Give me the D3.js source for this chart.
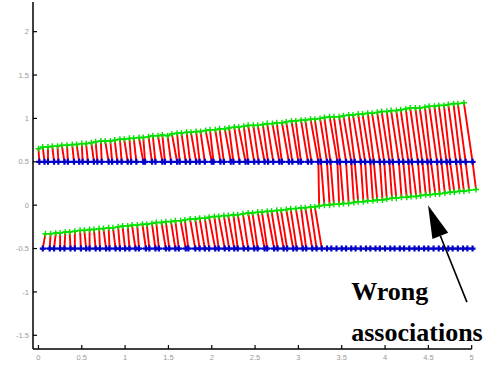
<!DOCTYPE html>
<html><head><meta charset="utf-8">
<script src="https://cdn.jsdelivr.net/npm/d3@7"></script>
<style>body{margin:0;background:#fff}svg{display:block}</style>
</head><body>
<svg id="c" width="500" height="369"></svg>
<script>
const xTicks=[0,0.5,1,1.5,2,2.5,3,3.5,4,4.5,5];
const yTicks=[-1.5,-1,-0.5,0,0.5,1,1.5,2];

// upper green track
const ugX=[0.00,0.05,0.11,0.16,0.22,0.27,0.33,0.39,0.44,0.50,
0.55,0.61,0.66,0.72,0.77,0.83,0.88,0.94,0.99,1.05,
1.10,1.16,1.21,1.27,1.32,1.38,1.43,1.49,1.54,1.60,
1.65,1.71,1.76,1.82,1.87,1.93,1.98,2.04,2.09,2.15,
2.20,2.26,2.31,2.37,2.42,2.48,2.53,2.59,2.64,2.70,
2.75,2.81,2.86,2.92,2.97,3.03,3.08,3.14,3.19,3.25,
3.30,3.36,3.41,3.47,3.52,3.58,3.63,3.69,3.74,3.80,
3.85,3.91,3.96,4.02,4.07,4.13,4.18,4.24,4.29,4.35,
4.40,4.46,4.51,4.57,4.62,4.68,4.73,4.79,4.84,4.91];
const ugY=[0.65,0.67,0.67,0.68,0.68,0.69,0.69,0.70,0.70,0.71,
0.71,0.72,0.73,0.74,0.74,0.74,0.75,0.76,0.76,0.77,
0.77,0.78,0.78,0.79,0.80,0.80,0.81,0.80,0.82,0.83,
0.83,0.84,0.84,0.85,0.85,0.86,0.87,0.87,0.88,0.88,
0.89,0.90,0.90,0.91,0.92,0.92,0.92,0.93,0.94,0.94,
0.95,0.95,0.96,0.97,0.97,0.98,0.98,0.99,0.99,1.00,
1.01,1.02,1.02,1.02,1.03,1.04,1.04,1.05,1.05,1.06,
1.06,1.07,1.08,1.08,1.09,1.09,1.10,1.11,1.12,1.12,
1.12,1.13,1.14,1.14,1.15,1.15,1.16,1.17,1.17,1.18];
// upper blue track (level 0.5)
const ubX=[0.01,0.07,0.11,0.18,0.23,0.30,0.34,0.41,0.47,0.51,
0.57,0.64,0.68,0.73,0.81,0.85,0.91,0.96,1.03,1.07,
1.13,1.21,1.23,1.31,1.35,1.43,1.46,1.53,1.60,1.63,
1.70,1.75,1.82,1.86,1.92,2.00,2.02,2.10,2.14,2.22,
2.25,2.32,2.39,2.42,2.49,2.54,2.61,2.65,2.71,2.78,
2.81,2.89,2.93,3.00,3.03,3.11,3.15,3.23,3.26,3.33,
3.37,3.45,3.48,3.55,3.61,3.65,3.72,3.77,3.83,3.87,
3.94,3.99,4.05,4.09,4.16,4.21,4.27,4.31,4.38,4.43,
4.49,4.53,4.60,4.65,4.71,4.75,4.82,4.87,4.93,5.01];
const upperLevel=0.5;

// lower green track
const lgX=[0.08,0.14,0.20,0.25,0.31,0.36,0.42,0.48,0.53,0.59,
0.64,0.70,0.75,0.81,0.86,0.92,0.97,1.03,1.08,1.14,
1.20,1.25,1.31,1.36,1.42,1.47,1.53,1.58,1.64,1.69,
1.75,1.81,1.86,1.92,1.97,2.03,2.08,2.14,2.19,2.25,
2.30,2.36,2.42,2.47,2.53,2.58,2.64,2.69,2.75,2.80,
2.86,2.91,2.97,3.03,3.08,3.14,3.19,3.24,3.30,3.36,
3.41,3.47,3.52,3.58,3.64,3.69,3.75,3.80,3.86,3.91,
3.97,4.02,4.08,4.13,4.19,4.25,4.30,4.36,4.41,4.47,
4.52,4.58,4.63,4.69,4.75,4.80,4.86,4.91,4.97,5.05];
const lgY=[-0.33,-0.33,-0.32,-0.32,-0.31,-0.31,-0.30,-0.29,-0.29,-0.28,
-0.28,-0.27,-0.27,-0.26,-0.26,-0.25,-0.24,-0.24,-0.23,-0.23,
-0.22,-0.22,-0.21,-0.20,-0.20,-0.19,-0.19,-0.18,-0.18,-0.17,
-0.16,-0.16,-0.15,-0.15,-0.14,-0.13,-0.13,-0.12,-0.12,-0.11,
-0.11,-0.10,-0.09,-0.09,-0.08,-0.08,-0.07,-0.07,-0.06,-0.06,
-0.05,-0.04,-0.04,-0.03,-0.03,-0.02,-0.02,-0.01,0.00,0.00,
0.01,0.01,0.02,0.02,0.03,0.04,0.04,0.05,0.05,0.06,
0.06,0.07,0.08,0.08,0.09,0.09,0.10,0.10,0.11,0.12,
0.12,0.13,0.13,0.14,0.15,0.15,0.16,0.16,0.17,0.18];
// lower blue track (level -0.5)
const lbX=[0.05,0.13,0.18,0.25,0.30,0.37,0.42,0.49,0.55,0.59,
0.66,0.71,0.78,0.82,0.89,0.94,1.00,1.05,1.12,1.16,
1.24,1.28,1.35,1.39,1.47,1.51,1.58,1.62,1.70,1.73,
1.81,1.86,1.92,1.97,2.04,2.08,2.15,2.20,2.26,2.30,
2.37,2.42,2.49,2.53,2.61,2.64,2.72,2.76,2.83,2.87,
2.94,2.98,3.05,3.09,3.16,3.21,3.27,3.33,3.38,3.44,
3.50,3.55,3.61,3.66,3.72,3.78,3.83,3.89,3.94,4.00,
4.06,4.11,4.17,4.22,4.28,4.34,4.39,4.45,4.50,4.56,
4.62,4.67,4.73,4.78,4.84,4.90,4.95,5.01];
const lowerLevel=-0.5;
const wrongFrom=3.22; // lower-track points beyond this are associated with the upper blue track

const svg=d3.select("#c");
const x=d3.scaleLinear().domain([-0.063,5]).range([33,471.7]);
const y=d3.scaleLinear().domain([-1.658,2.342]).range([349,2]);

// associations (red)
const links=[];
ugX.forEach((gx,i)=>links.push([gx,ugY[i],ubX[i],upperLevel]));
lgX.forEach((gx,i)=>{
  if(gx<wrongFrom){links.push([gx,lgY[i],lbX[i],lowerLevel]);}
  else{links.push([gx,lgY[i],ubX[Math.min(i,ubX.length-1)],upperLevel]);}
});
svg.append("g").selectAll("line").data(links).join("line")
  .attr("x1",d=>x(d[0])).attr("y1",d=>y(d[1]))
  .attr("x2",d=>x(d[2])).attr("y2",d=>y(d[3]))
  .attr("stroke","#ff0000").attr("stroke-width",1.9);

function plus(g,pts,size,color,sw){
  g.selectAll("path.m").data(pts).join("path").attr("class","m")
   .attr("d",d=>{const px=x(d[0]),py=y(d[1]);return `M${px-size},${py}H${px+size}M${px},${py-size}V${py+size}`;})
   .attr("stroke",color).attr("stroke-width",sw).attr("fill","none");
}
const line=d3.line().x(d=>x(d[0])).y(d=>y(d[1]));

// blue tracks
[[ubX,upperLevel],[lbX,lowerLevel]].forEach(([xs,lv])=>{
  const pts=xs.map(v=>[v,lv]);
  const g=svg.append("g");
  g.append("path").attr("d",line(pts)).attr("stroke","#0000ff").attr("stroke-width",1.6).attr("fill","none");
  plus(g,pts,3,"#0000c8",2.2);
});
// green tracks
[[ugX,ugY],[lgX,lgY]].forEach(([xs,ys])=>{
  const pts=xs.map((v,i)=>[v,ys[i]]);
  const g=svg.append("g");
  g.append("path").attr("d",line(pts)).attr("stroke","#00ff00").attr("stroke-width",1.6).attr("fill","none");
  plus(g,pts,3,"#00e000",1.4);
});

// axes
const ax=svg.append("g");
ax.append("line").attr("x1",x(-0.063)).attr("x2",x(5)).attr("y1",y(-1.658)).attr("y2",y(-1.658)).attr("stroke","#000").attr("stroke-width",1.5);
ax.append("line").attr("x1",x(-0.063)).attr("x2",x(-0.063)).attr("y1",y(-1.658)).attr("y2",y(2.342)).attr("stroke","#000").attr("stroke-width",1.5);
ax.selectAll("line.xt").data(xTicks).join("line").attr("class","xt")
  .attr("x1",d=>x(d)).attr("x2",d=>x(d)).attr("y1",y(-1.658)).attr("y2",y(-1.658)-4).attr("stroke","#000").attr("stroke-width",1.2);
ax.selectAll("line.yt").data(yTicks).join("line").attr("class","yt")
  .attr("y1",d=>y(d)).attr("y2",d=>y(d)).attr("x1",x(-0.063)).attr("x2",x(-0.063)+4).attr("stroke","#000").attr("stroke-width",1.2);
ax.selectAll("text.xl").data(xTicks).join("text").attr("class","xl")
  .attr("x",d=>x(d)).attr("y",y(-1.658)+11).attr("text-anchor","middle")
  .attr("font-family","Liberation Sans, Arial, sans-serif").attr("font-size",7.5).attr("fill","#999").text(d=>String(d));
ax.selectAll("text.yl").data(yTicks).join("text").attr("class","yl")
  .attr("x",x(-0.063)-4).attr("y",d=>y(d)+2.7).attr("text-anchor","end")
  .attr("font-family","Liberation Sans, Arial, sans-serif").attr("font-size",7.5).attr("fill","#999").text(d=>String(d));

// annotation
const ann=svg.append("g");
const tipX=4.496,tipY=0.0,tailX=4.945,tailY=-1.118;
const tx=x(tipX),ty=y(tipY),sx=x(tailX),sy=y(tailY);
const ang=Math.atan2(sy-ty,sx-tx);
const hl=33,hw=8.5;
const bx=tx+hl*Math.cos(ang),by=ty+hl*Math.sin(ang);
ann.append("line").attr("x1",sx).attr("y1",sy).attr("x2",bx).attr("y2",by).attr("stroke","#000").attr("stroke-width",1.6);
ann.append("path").attr("d",`M${tx},${ty}L${bx-hw*Math.sin(ang)},${by+hw*Math.cos(ang)}L${bx+hw*Math.sin(ang)},${by-hw*Math.cos(ang)}Z`).attr("fill","#000");
ann.append("text").attr("x",x(3.61)).attr("y",y(-1.095)).attr("font-family","Liberation Serif, Times New Roman, serif").attr("font-weight","bold").attr("font-size",26).text("Wrong");
ann.append("text").attr("x",x(3.61)).attr("y",y(-1.567)).attr("font-family","Liberation Serif, Times New Roman, serif").attr("font-weight","bold").attr("font-size",26).text("associations");
</script>
</body></html>
